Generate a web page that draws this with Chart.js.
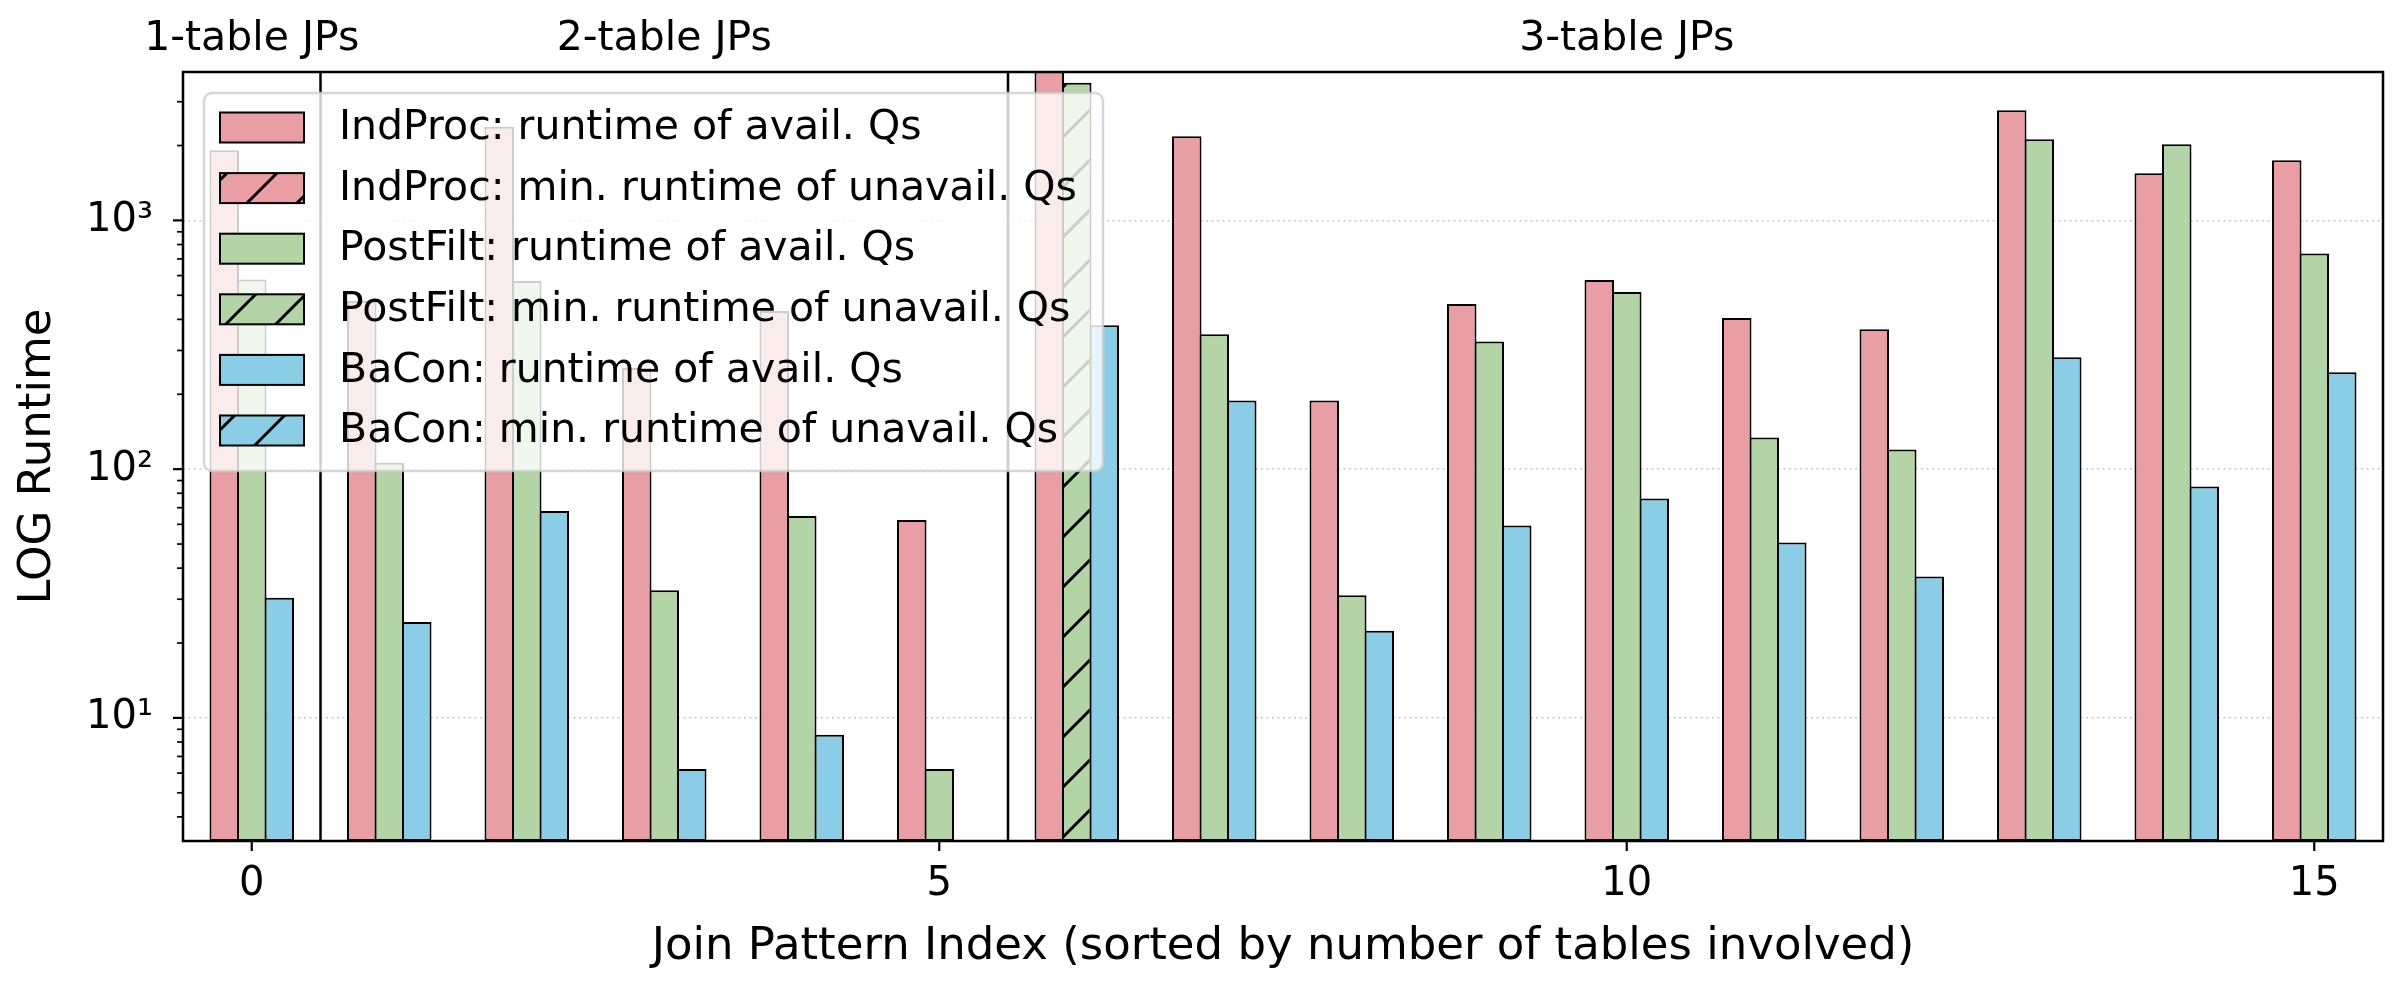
<!DOCTYPE html>
<html>
<head>
<meta charset="utf-8">
<script src="https://cdn.jsdelivr.net/npm/chart.js@4.4.1/dist/chart.umd.min.js"></script>
<style>
  html, body { margin: 0; padding: 0; background: #fff; }
</style>
</head>
<body>
<canvas id="grafico" width="2400" height="990"></canvas>
<script>
// join pattern indices (x axis)
const indices = [0, 1, 2, 3, 4, 5, 6, 7, 8, 9, 10, 11, 12, 13, 14, 15];

// runtimes
const indProc  = [1914, 474, 2381, 255, 432, 62.5, 4200, 2178, 189, 461, 576, 405, 365, 2773, 1546, 1745];
const postFilt = [578, 106, 571, 32.6, 64.8, 6.23, 3580, 349, 31.1, 326, 515, 134, 120, 2119, 2024, 736];
const baCon    = [30.4, 24.3, 67.9, 6.23, 8.55, null, 379, 189, 22.4, 59.3, 76.2, 50.7, 37.0, 282, 85.2, 245];

// indices where only a min. runtime of unavailable queries exists (hatched)
const indProcUnavail = [];
const postFiltUnavail = [6];
const baConUnavail = [];

const legendLabels = [
    'IndProc: runtime of avail. Qs',
    'IndProc: min. runtime of unavail. Qs',
    'PostFilt: runtime of avail. Qs',
    'PostFilt: min. runtime of unavail. Qs',
    'BaCon: runtime of avail. Qs',
    'BaCon: min. runtime of unavail. Qs'
];

const xTickLabels = [0, 5, 10, 15];
const yMajorTicks = [10, 100, 1000];
const yTickLabels = ['10¹', '10²', '10³'];

const groupLabels = ['1-table JPs', '2-table JPs', '3-table JPs'];
const groupCenters = [0, 3, 10];
const groupSeparators = [0.5, 5.5];

const cores = ['#e89ea2', '#b3d4a4', '#89cee6'];
const FONTE = 'DejaVu Sans';

Chart.defaults.font.family = FONTE;
Chart.defaults.color = '#000';

const canvas = document.getElementById('grafico');
const ctx = canvas.getContext('2d');

function criarHachura(cor) {
    const s = 50;
    const c = document.createElement('canvas');
    c.width = s;
    c.height = s;
    const g = c.getContext('2d');
    g.fillStyle = cor;
    g.fillRect(0, 0, s, s);
    g.strokeStyle = '#000';
    g.lineWidth = 3;
    g.beginPath();
    g.moveTo(-5, s + 5); g.lineTo(s + 5, -5);
    g.moveTo(-5, 5); g.lineTo(5, -5);
    g.moveTo(s - 5, s + 5); g.lineTo(s + 5, s - 5);
    g.stroke();
    return ctx.createPattern(c, 'repeat');
}

const hachuras = cores.map(criarHachura);
const unavail = [indProcUnavail, postFiltUnavail, baConUnavail];

// minor ticks of the log axis: 2..9 x 10^n inside the range
const yMin = 3.2, yMax = 3950;
const yTickValues = [];
for (let e = 0; e < 4; e++) {
    for (let m = 1; m < 10; m++) {
        const v = m * Math.pow(10, e);
        if (v >= yMin && v <= yMax) yTickValues.push(v);
    }
}

function dataset(label, data, i) {
    return {
        label: label,
        data: data,
        backgroundColor: c => unavail[i].includes(c.dataIndex) ? hachuras[i] : cores[i],
        borderColor: '#000',
        borderWidth: 2,
        borderSkipped: false,
        categoryPercentage: 0.6,
        barPercentage: 1.073
    };
}

const decoracao = {
    id: 'decoracao',
    beforeDatasetsDraw(chart) {
        const {ctx, chartArea: a, scales: {x}} = chart;
        ctx.save();
        ctx.strokeStyle = '#000';
        ctx.lineWidth = 2.5;
        groupSeparators.forEach(v => {
            const px = x.getPixelForValue(v);
            ctx.beginPath();
            ctx.moveTo(px, a.top);
            ctx.lineTo(px, a.bottom);
            ctx.stroke();
        });
        ctx.restore();
    },
    afterDatasetsDraw(chart) {
        const {ctx, chartArea: a, scales: {x, y}} = chart;
        ctx.save();

        // frame
        ctx.strokeStyle = '#000';
        ctx.lineWidth = 2.5;
        ctx.strokeRect(a.left, a.top, a.right - a.left, a.bottom - a.top);

        // tick marks
        ctx.lineWidth = 2.2;
        xTickLabels.forEach(v => {
            const px = x.getPixelForValue(v);
            ctx.beginPath();
            ctx.moveTo(px, a.bottom);
            ctx.lineTo(px, a.bottom + 10);
            ctx.stroke();
        });
        y.ticks.forEach(t => {
            const py = y.getPixelForValue(t.value);
            ctx.lineWidth = t.major ? 2.2 : 1.7;
            ctx.beginPath();
            ctx.moveTo(a.left, py);
            ctx.lineTo(a.left - (t.major ? 10 : 6), py);
            ctx.stroke();
        });

        // group titles
        ctx.fillStyle = '#000';
        ctx.font = '41px "' + FONTE + '"';
        ctx.textAlign = 'center';
        ctx.textBaseline = 'middle';
        groupLabels.forEach((txt, i) => {
            ctx.fillText(txt, x.getPixelForValue(groupCenters[i]), 39);
        });

        // legend (semi-transparent, over the bars)
        const lx = a.left + 21, ly = a.top + 21, lw = 899, lh = 378;
        ctx.beginPath();
        ctx.roundRect(lx, ly, lw, lh, 8);
        ctx.fillStyle = 'rgba(255,255,255,0.8)';
        ctx.fill();
        ctx.strokeStyle = 'rgba(204,204,204,0.8)';
        ctx.lineWidth = 2.5;
        ctx.stroke();

        ctx.textAlign = 'left';
        legendLabels.forEach((txt, i) => {
            const serie = Math.floor(i / 2);
            const cy = ly + 34.5 + i * 60.6;
            ctx.fillStyle = (i % 2) ? hachuras[serie] : cores[serie];
            ctx.fillRect(lx + 16, cy - 15, 84, 30);
            ctx.strokeStyle = '#000';
            ctx.lineWidth = 2;
            ctx.strokeRect(lx + 16, cy - 15, 84, 30);
            ctx.fillStyle = '#000';
            ctx.fillText(txt, lx + 135, cy + 1);
        });
        ctx.restore();
    }
};

new Chart(ctx, {
    type: 'bar',
    data: {
        labels: indices.map(String),
        datasets: [
            dataset(legendLabels[0], indProc, 0),
            dataset(legendLabels[2], postFilt, 1),
            dataset(legendLabels[4], baCon, 2)
        ]
    },
    options: {
        responsive: false,
        animation: false,
        devicePixelRatio: 1,
        layout: { padding: { top: 72, right: 17, bottom: 0, left: 0 } },
        plugins: {
            legend: { display: false },
            tooltip: { enabled: false }
        },
        scales: {
            x: {
                offset: true,
                grid: { display: false, drawTicks: false },
                border: { display: false },
                ticks: {
                    autoSkip: false,
                    maxRotation: 0,
                    padding: 20,
                    font: { size: 40 },
                    callback: (v, i) => xTickLabels.includes(i) ? String(i) : ''
                },
                title: {
                    display: true,
                    text: 'Join Pattern Index (sorted by number of tables involved)',
                    font: { size: 45 },
                    padding: { top: 0, bottom: 16 }
                },
                afterFit: s => { s.height = 149; }
            },
            y: {
                type: 'logarithmic',
                min: yMin,
                max: yMax,
                grid: {
                    drawTicks: false,
                    lineWidth: 1.6,
                    color: c => (c.tick && c.tick.major) ? '#c8c8c8' : 'rgba(0,0,0,0)'
                },
                border: { display: false, dash: [2, 3.5] },
                afterBuildTicks: s => {
                    s.ticks = yTickValues.map(v => ({ value: v, major: yMajorTicks.includes(v) }));
                },
                ticks: {
                    autoSkip: false,
                    padding: 30,
                    font: { size: 40 },
                    callback: v => {
                        const k = yMajorTicks.indexOf(v);
                        return k >= 0 ? yTickLabels[k] : '';
                    }
                },
                title: {
                    display: true,
                    text: 'LOG Runtime',
                    font: { size: 45 },
                    padding: { top: 11, bottom: 0 }
                },
                afterFit: s => { s.width = 183; }
            }
        }
    },
    plugins: [decoracao]
});
</script>
</body>
</html>
